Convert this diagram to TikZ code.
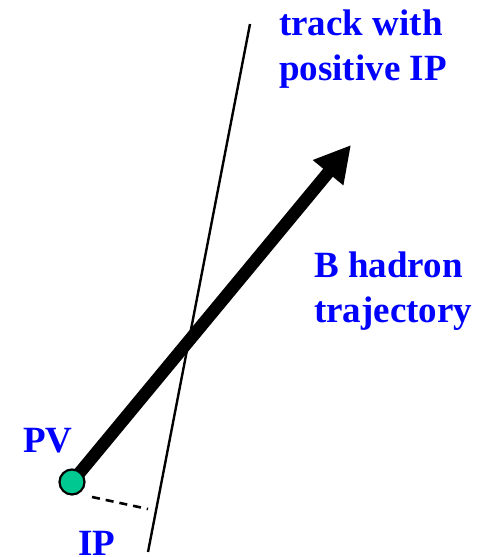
\documentclass[tikz,border=0pt]{standalone}
\usepackage{fontspec}
\setmainfont{Liberation Serif}
\usetikzlibrary{arrows.meta}
\definecolor{lblblue}{RGB}{0,0,255}
\definecolor{pvgreen}{RGB}{0,200,145}
\begin{document}
\begin{tikzpicture}[x=1pt,y=-1pt,
  lbl/.style={text=lblblue, font=\fontsize{37}{45}\selectfont\bfseries, inner sep=0pt, anchor=base west, align=left},
  trackline/.style={line width=2.4pt, black},
  hadron/.style={line width=12.5pt, black, -{Triangle[length=36pt,width=37pt]}},
  ipline/.style={line width=2.6pt, black, dash pattern=on 8pt off 6pt},
  vertex/.style={circle, draw=black, line width=2.2pt, fill=pvgreen, minimum size=25pt, inner sep=0pt}]
\useasboundingbox (0,0) rectangle (487,557);
% track
\coordinate (ttop) at (250,24);
\coordinate (tbot) at (148,552);
\draw[trackline] (ttop) -- (tbot);
% B hadron
\coordinate (pvc) at (72,482);
\coordinate (tip) at (351,145);
\draw[hadron] (pvc) -- (tip);
% IP
\coordinate (ipa) at (92,497);
\coordinate (ipb) at (148,509);
\draw[ipline] (ipa) -- (ipb);
\node[vertex] (pv) at (pvc) {};
% labels
\node[lbl] (tracklbl) at (279,80) {track with\\positive IP};
\node[lbl] (blbl) at (314,322) {B hadron\\trajectory};
\node[lbl] (pvlbl) at (23,452) {PV};
\node[lbl] (iplbl) at (78,555) {IP};
\end{tikzpicture}
\end{document}
